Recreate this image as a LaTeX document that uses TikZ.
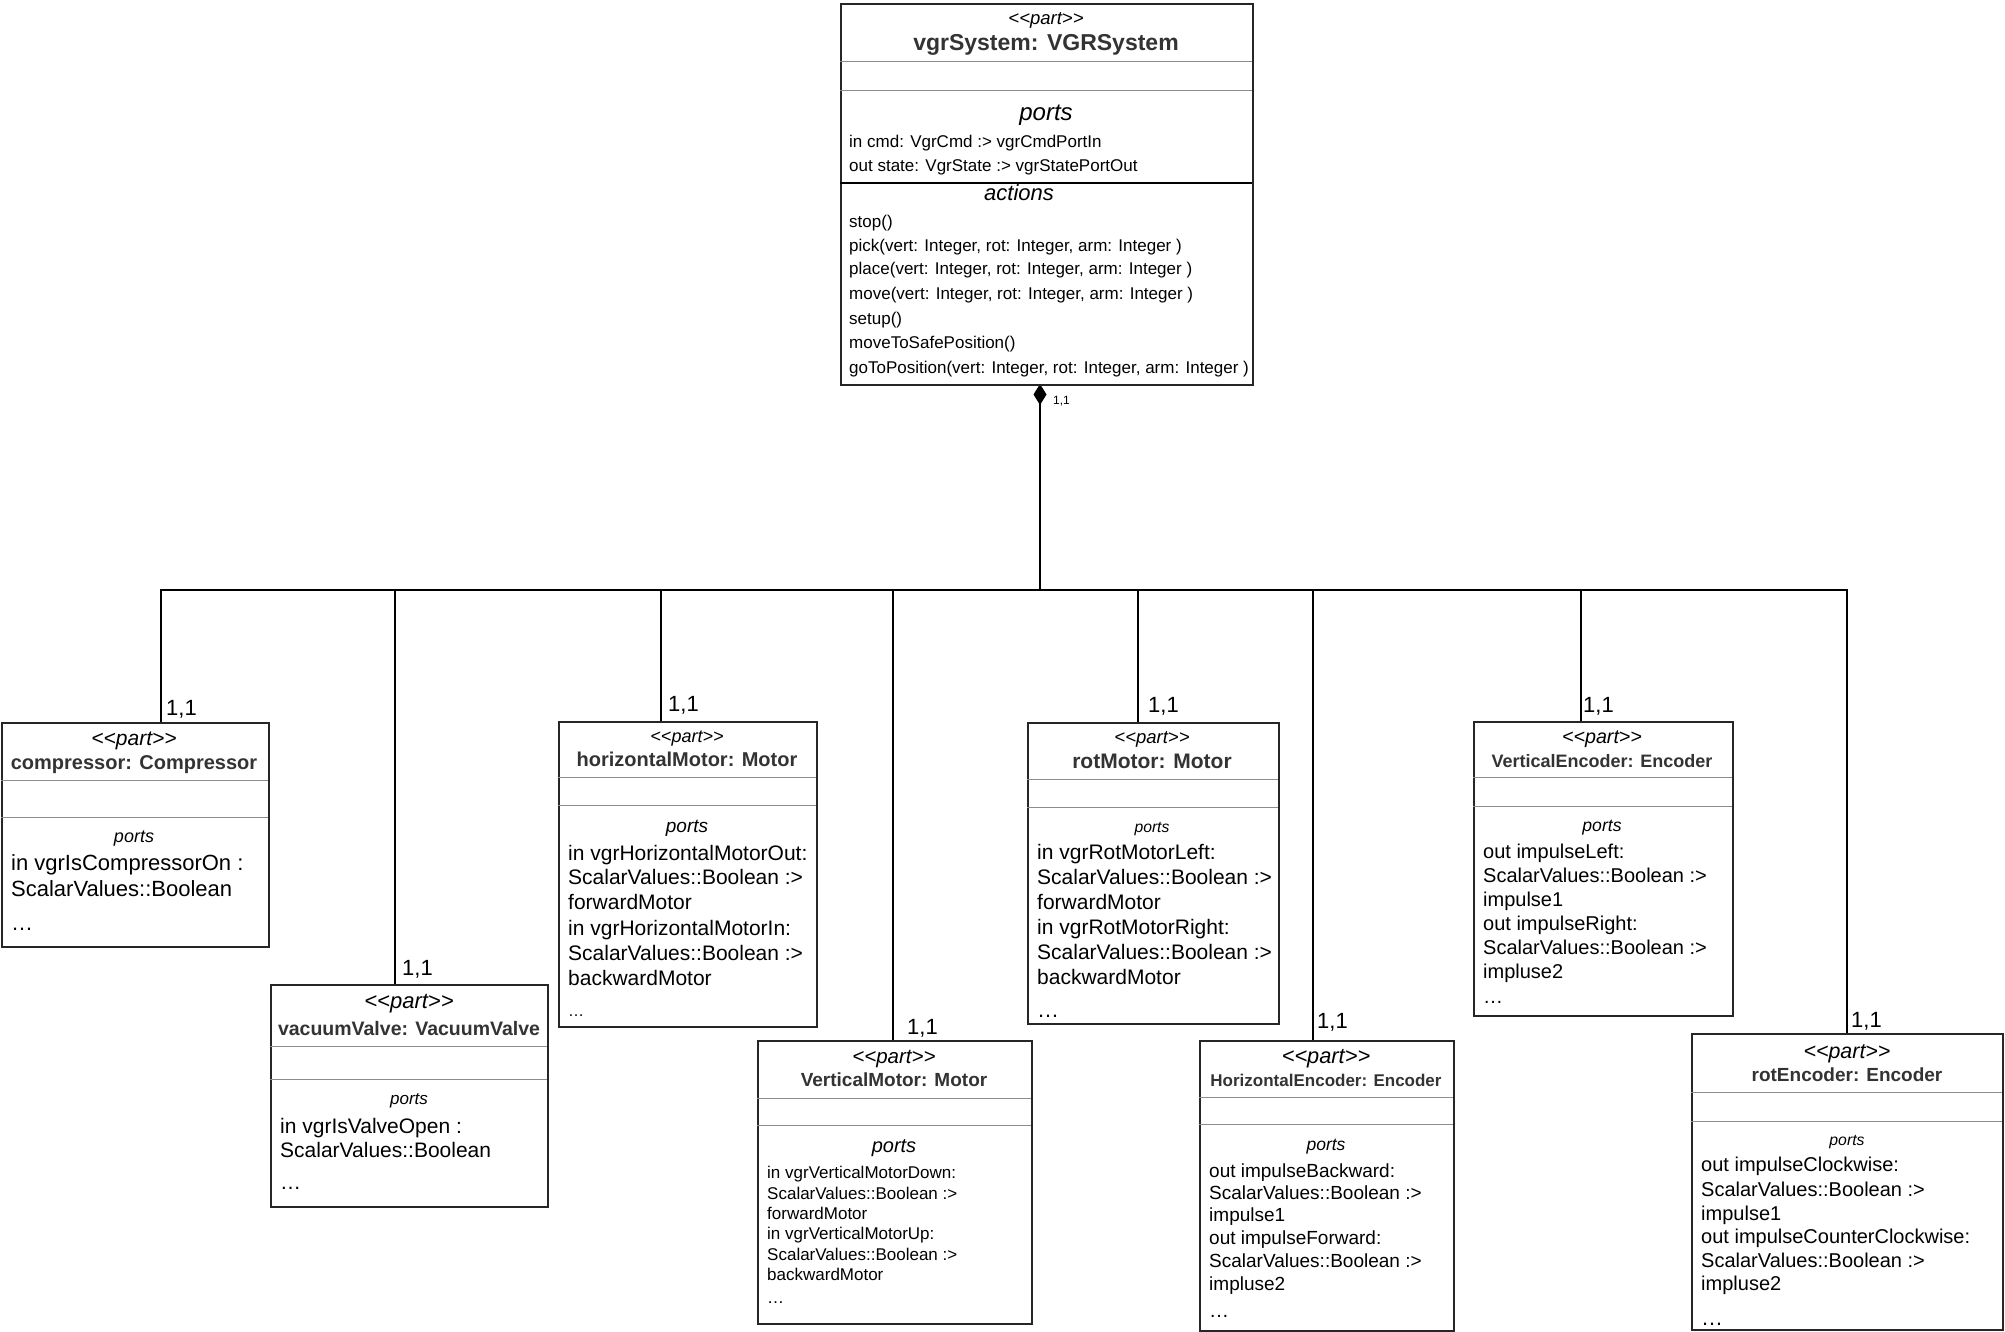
\documentclass[tikz,border=0pt]{standalone}
\usepackage{fontspec}
\setmainfont{Liberation Sans}
\usetikzlibrary{arrows.meta}
\definecolor{titlegray}{HTML}{333333}
\definecolor{divgray}{HTML}{8C8C8C}
\definecolor{boxc}{HTML}{262626}
\newcommand\fsz[1]{\fontsize{#1}{#1}\selectfont}
\begin{document}
\begin{tikzpicture}[x=1pt,y=-1pt,
  partbox/.style={draw=boxc, line width=2pt, fill=white, inner sep=0pt, anchor=north west},
  div/.style={draw=divgray, line width=1pt},
  stereo/.style={inner sep=0pt, anchor=mid, yshift=-5pt, font=\fsz{#1}\itshape},
  ptitle/.style={inner sep=0pt, anchor=mid, yshift=-5pt, font=\fsz{#1}\bfseries, text=titlegray},
  portsl/.style={inner sep=0pt, anchor=mid, yshift=-5pt, font=\fsz{#1}\itshape},
  body/.style={inner sep=0pt, anchor=mid west, yshift=-4.5pt, font=\fsz{#1}},
  dots/.style={inner sep=0pt, anchor=base west, font=\fsz{#1}},
  mult/.style={inner sep=0pt, anchor=base west, font=\fsz{#1}},
  conn/.style={draw=black, line width=2pt},
]
\useasboundingbox[fill=white] (0,0) rectangle (2005,1332);

% ---------- connectors ----------
\coordinate (sysA) at (1040,384);
\coordinate (bus) at (1040,590);
\coordinate (compA) at (161,722);
\coordinate (vacA) at (395,984);
\coordinate (hmA) at (661,721);
\coordinate (vmA) at (893,1040);
\coordinate (rmA) at (1138,722);
\coordinate (heA) at (1313,1040);
\coordinate (veA) at (1581,721);
\coordinate (reA) at (1847,1033);
\draw[conn, {Diamond[length=21pt,width=13pt]}-] (sysA) -- (bus);
\foreach \p in {compA,vacA,hmA,vmA,rmA,heA,veA,reA}
  \draw[conn] (bus) -| (\p);
\node[mult=12] (sysM) at (1053,404) {1,1};
\node[mult=22] (compM) at (166,715) {1,1};
\node[mult=22] (vacM) at (402,975) {1,1};
\node[mult=22] (hmM) at (668,711) {1,1};
\node[mult=22] (vmM) at (907,1034) {1,1};
\node[mult=22] (rmM) at (1148,712) {1,1};
\node[mult=22] (heM) at (1317,1028) {1,1};
\node[mult=22] (veM) at (1583,712) {1,1};
\node[mult=22] (reM) at (1851,1027) {1,1};

% ---------- vgrSystem ----------
\node[partbox, minimum width=412pt, minimum height=381pt] (sys) at (840,3) {};
\draw[div] (840,62) -- (1252,62);
\draw[div] (840,91) -- (1252,91);
\draw[draw=black, line width=1.5pt] (840,183) -- (1252,183);
\node[stereo=18.5] (sysS) at (1046,17) {<{}<part>{}>};
\node[ptitle=23] (sysT) at (1046,43) {vgrSystem: VGRSystem};
\node[portsl=24] (sysP) at (1046,113) {ports};
\node[body=17] (sysL1) at (849,140) {in cmd: VgrCmd :> vgrCmdPortIn};
\node[body=17] (sysL2) at (849,164) {out state: VgrState :> vgrStatePortOut};
\node[portsl=22] (sysAct) at (1019,193) {actions};
\foreach \lya/\ltx [count=\i] in {220/{stop()},
  244/{pick(vert: Integer, rot: Integer, arm: Integer )},
  267/{place(vert: Integer, rot: Integer, arm: Integer )},
  292/{move(vert: Integer, rot: Integer, arm: Integer )},
  317/{setup()},
  341/{moveToSafePosition()},
  366/{goToPosition(vert: Integer, rot: Integer, arm: Integer )}}
  \node[body=17] (sysAc\i) at (849,\lya) {\ltx};

% ---------- compressor ----------
\node[partbox, minimum width=267pt, minimum height=224pt] (comp) at (1,722) {};
\draw[div] (1,780) -- (268,780);
\draw[div] (1,817) -- (268,817);
\node[stereo=21] (compS) at (134,738) {<{}<part>{}>};
\node[ptitle=20] (compT) at (134,762) {compressor: Compressor};
\node[portsl=18] (compP) at (134,835) {ports};
\node[body=22] (compL1) at (11,863) {in vgrIsCompressorOn :};
\node[body=22] (compL2) at (11,889) {ScalarValues::Boolean};
\node[dots=22] (compD) at (11,930) {…};

% ---------- vacuumValve ----------
\node[partbox, minimum width=277pt, minimum height=222pt] (vac) at (270,984) {};
\draw[div] (270,1046) -- (547,1046);
\draw[div] (270,1079) -- (547,1079);
\node[stereo=22] (vacS) at (409,1001) {<{}<part>{}>};
\node[ptitle=19.5] (vacT) at (409,1028) {vacuumValve: VacuumValve};
\node[portsl=17] (vacP) at (409,1097) {ports};
\node[body=21] (vacL1) at (280,1126) {in vgrIsValveOpen :};
\node[body=21] (vacL2) at (280,1150) {ScalarValues::Boolean};
\node[dots=21] (vacD) at (280,1189) {…};

% ---------- horizontalMotor ----------
\node[partbox, minimum width=258pt, minimum height=305pt] (hm) at (558,721) {};
\draw[div] (558,777) -- (816,777);
\draw[div] (558,805) -- (816,805);
\node[stereo=18] (hmS) at (687,735) {<{}<part>{}>};
\node[ptitle=20] (hmT) at (687,759) {horizontalMotor: Motor};
\node[portsl=19] (hmP) at (687,825) {ports};
\foreach \lya/\ltx [count=\i] in {853/{in vgrHorizontalMotorOut:},
  877/{ScalarValues::Boolean :>}, 902/{forwardMotor},
  928/{in vgrHorizontalMotorIn:}, 953/{ScalarValues::Boolean :>},
  978/{backwardMotor}}
  \node[body=21] (hmL\i) at (568,\lya) {\ltx};
\node[dots=16] (hmD) at (568,1016) {…};

% ---------- VerticalMotor ----------
\node[partbox, minimum width=274pt, minimum height=283pt] (vm) at (757,1040) {};
\draw[div] (757,1098) -- (1031,1098);
\draw[div] (757,1125) -- (1031,1125);
\node[stereo=20.5] (vmS) at (894,1056) {<{}<part>{}>};
\node[ptitle=19] (vmT) at (894,1079) {VerticalMotor: Motor};
\node[portsl=20] (vmP) at (894,1145) {ports};
\foreach \lya/\ltx [count=\i] in {1171/{in vgrVerticalMotorDown:},
  1192/{ScalarValues::Boolean :>}, 1212/{forwardMotor},
  1232/{in vgrVerticalMotorUp:}, 1253/{ScalarValues::Boolean :>},
  1273/{backwardMotor}}
  \node[body=17] (vmL\i) at (767,\lya) {\ltx};
\node[dots=17] (vmD) at (767,1303) {…};

% ---------- rotMotor ----------
\node[partbox, minimum width=251pt, minimum height=301pt] (rm) at (1027,722) {};
\draw[div] (1027,779) -- (1278,779);
\draw[div] (1027,807) -- (1278,807);
\node[stereo=18.5] (rmS) at (1152,736) {<{}<part>{}>};
\node[ptitle=21] (rmT) at (1152,761) {rotMotor: Motor};
\node[portsl=15.7] (rmP) at (1152,825) {ports};
\foreach \lya/\ltx [count=\i] in {852/{in vgrRotMotorLeft:},
  877/{ScalarValues::Boolean :>}, 902/{forwardMotor},
  927/{in vgrRotMotorRight:}, 952/{ScalarValues::Boolean :>},
  977/{backwardMotor}}
  \node[body=21] (rmL\i) at (1037,\lya) {\ltx};
\node[dots=22] (rmD) at (1037,1017) {…};

% ---------- HorizontalEncoder ----------
\node[partbox, minimum width=254pt, minimum height=290pt] (he) at (1199,1040) {};
\draw[div] (1199,1097) -- (1453,1097);
\draw[div] (1199,1124) -- (1453,1124);
\node[stereo=21.8] (heS) at (1326,1056) {<{}<part>{}>};
\node[ptitle=17] (heT) at (1326,1079) {HorizontalEncoder: Encoder};
\node[portsl=17.5] (heP) at (1326,1143) {ports};
\foreach \lya/\ltx [count=\i] in {1170/{out impulseBackward:},
  1192/{ScalarValues::Boolean :>}, 1214/{impulse1},
  1237/{out impulseForward:}, 1260/{ScalarValues::Boolean :>},
  1283/{impluse2}}
  \node[body=19] (heL\i) at (1209,\lya) {\ltx};
\node[dots=20] (heD) at (1209,1317) {…};

% ---------- VerticalEncoder ----------
\node[partbox, minimum width=259pt, minimum height=294pt] (ve) at (1473,721) {};
\draw[div] (1473,777) -- (1732,777);
\draw[div] (1473,806) -- (1732,806);
\node[stereo=19.7] (veS) at (1602,736) {<{}<part>{}>};
\node[ptitle=18] (veT) at (1602,760) {VerticalEncoder: Encoder};
\node[portsl=17.6] (veP) at (1602,824) {ports};
\foreach \lya/\ltx [count=\i] in {851/{out impulseLeft:},
  875/{ScalarValues::Boolean :>}, 899/{impulse1},
  923/{out impulseRight:}, 947/{ScalarValues::Boolean :>},
  971/{impluse2}}
  \node[body=20] (veL\i) at (1483,\lya) {\ltx};
\node[dots=20] (veD) at (1483,1003) {…};

% ---------- rotEncoder ----------
\node[partbox, minimum width=311pt, minimum height=296pt] (re) at (1691,1033) {};
\draw[div] (1691,1092) -- (2002,1092);
\draw[div] (1691,1121) -- (2002,1121);
\node[stereo=21.4] (reS) at (1847,1051) {<{}<part>{}>};
\node[ptitle=19] (reT) at (1847,1074) {rotEncoder: Encoder};
\node[portsl=15.8] (reP) at (1847,1138) {ports};
\foreach \lya/\ltx [count=\i] in {1164/{out impulseClockwise:},
  1189/{ScalarValues::Boolean :>}, 1213/{impulse1},
  1236/{out impulseCounterClockwise:}, 1260/{ScalarValues::Boolean :>},
  1283/{impluse2}}
  \node[body=20] (reL\i) at (1701,\lya) {\ltx};
\node[dots=22] (reD) at (1701,1325) {…};
\end{tikzpicture}
\end{document}
